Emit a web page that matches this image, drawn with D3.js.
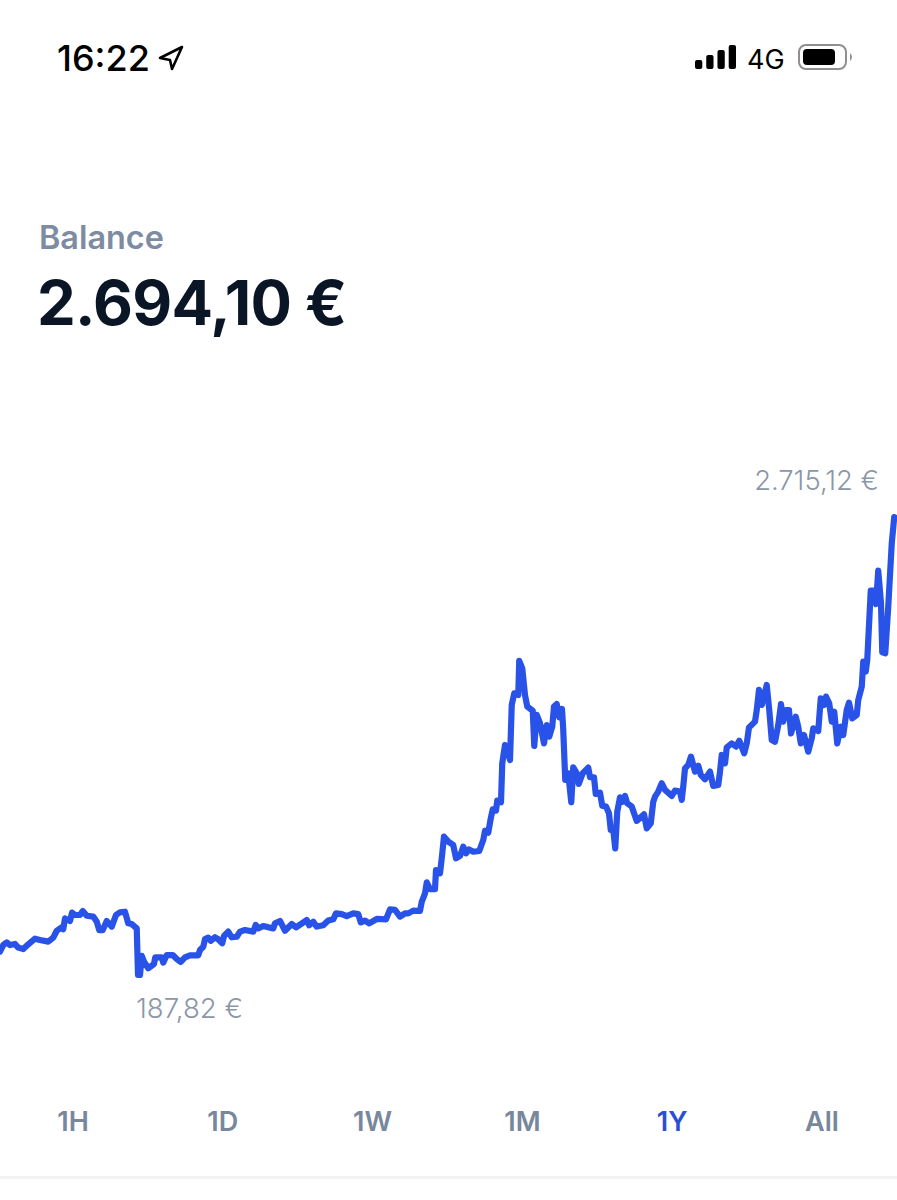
<!DOCTYPE html>
<html><head><meta charset="utf-8">
<style>html,body{margin:0;padding:0;background:#fff}svg{display:block}text{font-family:Inter,"Noto Sans",sans-serif}</style>
<script src="https://cdn.jsdelivr.net/npm/d3@7/dist/d3.min.js"></script>
</head><body><div id="c"></div>
<script>
const rangeTabs = ["1H","1D","1W","1M","1Y","All"];
const activeTab = "1Y";
const balanceTitle = "Balance";
const balanceValue = "2.694,10 €";
const highLabel = "2.715,12 €";
const lowLabel = "187,82 €";
const statusTime = "16:22";
const networkLabel = "4G";
const signalLevels = [1,2,3,4];

const days = [0,1.3,2.7,4,6,7.3,9.3,11.3,14,16,19.3,21.3,22.7,24.7,25.3,26,28,28.8,30,32,33.1,34.7,37.3,38.7,39.7,41.1,42.7,44.7,46.4,48,50,51.3,52.7,54.7,55.2,56,56.7,57.6,59.3,61.6,62.1,64.7,65.3,66.7,69.1,70.7,72.3,74,76,79.3,80,81.3,82,83.3,84.3,86,87.3,88.9,89.6,91.3,92.7,94.7,96,98,101.3,102.3,103.3,105.3,107.3,109.3,110,112,114,116.7,118.4,122.7,123.7,125.3,126.7,129.3,131.3,133.3,134.4,136.7,138.7,141.3,143.3,144.3,146,147.7,150.7,154.4,156,158,160,162,163.3,165.3,168,168.7,170,170.7,172,174,174.4,176,176.7,177.6,
179.3,181.3,182.4,184,185.3,186.4,187.6,189.3,191.7,193.3,194,195.3,196.3,197.1,198.4,198.9,200.4,200.9,202,202.9,204,204.7,205.7,207.3,207.7,208.9,210,210.9,213.1,213.7,214.7,216,217.6,218.7,219.7,220.9,221.6,222.7,223.7,224.8,225.3,226.1,227.3,228.5,229.3,230.7,231.5,233.1,235.3,236,237.6,238.3,240,240.9,242.4,243.6,244.3,245.3,246.1,246.9,248,249.1,250,250.9,252.7,254.7,257.6,258.7,260.3,261.3,262,263.3,
264.7,266,268.7,270,272,272.7,273.3,274,275.3,276.4,278,279.3,280.3,282,284,285.3,287.3,288,288.7,290,290.7,292.7,294.4,295.7,297.7,298.7,299.6,302,302.7,303.6,304.7,305.6,306.7,307.7,308.7,310,311.3,312.4,313.3,314.4,315.6,316.4,318.3,319.3,320.3,321.6,323.3,324.7,325.3,327.3,328.3,329.6,330.4,331.7,332.7,333.7,334.9,336.3,337.3,338.7,339.6,340.9,342.7,343.3,344.7,345.3,346.3,346.9,348.3,349.6,350.4,351.3,352.4,352.9,354.1,355.3,356.7,357.7];

const balances = [317,353,368,353,359,339,331,357,388,381,372,394,432,451,440,500,486,532,519,519,541,515,510,482,436,436,486,455,519,534,537,473,469,445,188,188,293,261,225,249,285,285,256,298,298,276,260,285,296,296,326,344,386,394,377,396,385,363,403,427,396,399,427,436,427,464,445,458,451,445,473,486,432,469,451,491,462,482,455,462,488,495,528,524,513,528,524,478,488,473,497,495,550,547,510,528,528,543,541,592,638,699,662,662,767,749,832,951,
924,905,832,845,896,859,881,868,872,933,984,973,1052,1102,1095,1150,1141,1356,1457,1429,1374,1678,1742,1733,1921,1880,1733,1669,1646,1452,1623,1577,1466,1567,1503,1558,1669,1683,1610,1656,1540,1264,1301,1141,1334,1301,1242,1301,1332,1279,1279,1187,1194,1122,1117,1080,988,988,887,1089,1168,1144,1176,1135,1117,1038,1074,997,1025,1144,1172,1200,
1246,1209,1176,1205,1200,1154,1227,1328,1347,1393,1310,1343,1292,1268,1310,1231,1236,1310,1402,1356,1444,1466,1448,1481,1411,1466,1554,1586,1650,1761,1678,1724,1788,1650,1485,1475,1567,1683,1586,1650,1650,1521,1613,1558,1466,1512,1420,1494,1549,1534,1715,1678,1724,1687,1586,1641,1466,1558,1512,1650,1691,1604,1623,1705,1779,1917,1862,1926,2309,2309,2235,2419,2239,1968,1963,2220,2570,2715.12];

const W = 897, H = 1200;
const svg = d3.select("#c").append("svg").attr("width",W).attr("height",H).attr("viewBox",[0,0,W,H]);
const x = d3.scaleLinear().domain([0,358.8]).range([0,W]);
const y = d3.scaleLinear().domain([187.82,2715.12]).range([975,517]);
const series = days.map((d,i)=>({d,v:balances[i]}));

svg.append("path").datum(series)
  .attr("d", d3.line().x(p=>x(p.d)).y(p=>y(p.v)))
  .attr("fill","none").attr("stroke","#2952E8").attr("stroke-width",6.2)
  .attr("stroke-linejoin","round").attr("stroke-linecap","round");

// header
svg.append("text").attr("x",39).attr("y",249).attr("font-size",32.4).attr("font-weight",600).attr("fill","#7D8CA3").text(balanceTitle);
svg.append("text").attr("x",37).attr("y",325).attr("font-size",61.5).attr("font-weight",700).attr("letter-spacing",-0.7).attr("fill","#0A1526").text(balanceValue);
// extremes
svg.append("text").attr("x",879).attr("y",490).attr("text-anchor","end").attr("font-size",27.4).attr("font-weight",350).attr("fill","#8A97A8").text(highLabel);
svg.append("text").attr("x",136).attr("y",1018).attr("font-size",27.6).attr("font-weight",350).attr("fill","#8A97A8").text(lowLabel);
// tabs
const tabX = d3.scalePoint().domain(rangeTabs).range([73,822]);
svg.selectAll("text.tab").data(rangeTabs).join("text").attr("class","tab")
  .attr("x",d=>tabX(d)).attr("y",1131).attr("text-anchor","middle")
  .attr("font-size",27).attr("font-weight",600)
  .attr("fill",d=>d===activeTab?"#2A4FD6":"#78879B").text(d=>d);
svg.append("rect").attr("x",0).attr("y",1176).attr("width",W).attr("height",3).attr("fill","#F3F3F4");

// status bar
svg.append("text").attr("x",57).attr("y",71).attr("font-size",36).attr("font-weight",500).attr("fill","#000").text(statusTime);
svg.append("path").attr("d","M182 47 L160 58 L170 60 L172 69 Z").attr("fill","none").attr("stroke","#000").attr("stroke-width",2.6).attr("stroke-linejoin","round");
const sigX = d3.scaleBand().domain(signalLevels).range([695,736]).paddingInner(0.35);
const sigH = d3.scaleLinear().domain([1,4]).range([9,24]);
svg.selectAll("rect.sig").data(signalLevels).join("rect").attr("class","sig")
  .attr("x",d=>sigX(d)).attr("y",d=>69-sigH(d)).attr("width",sigX.bandwidth()).attr("height",d=>sigH(d)).attr("rx",2).attr("fill","#000");
svg.append("text").attr("x",747).attr("y",69).attr("font-size",27).attr("font-weight",400).attr("fill","#000").text(networkLabel);
svg.append("rect").attr("x",799).attr("y",45).attr("width",47).attr("height",24).attr("rx",7).attr("fill","none").attr("stroke","#8f8f8f").attr("stroke-width",2);
svg.append("rect").attr("x",803).attr("y",49).attr("width",32).attr("height",16).attr("rx",4).attr("fill","#000");
svg.append("path").attr("d","M850 53 Q854 57 850 61 Z").attr("fill","#8f8f8f");
</script></body></html>
